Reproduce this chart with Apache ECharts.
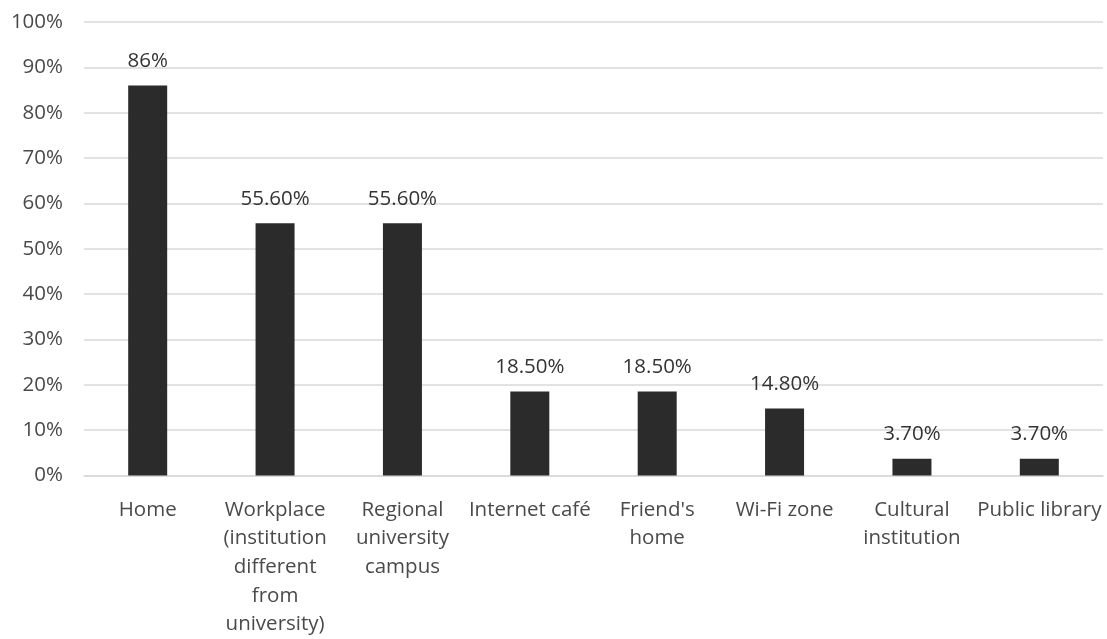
<!DOCTYPE html>
<html>
<head>
<meta charset="utf-8">
<script src="https://cdn.jsdelivr.net/npm/echarts@6/dist/echarts.min.js"></script>
<style>
  html, body { margin: 0; padding: 0; background: #ffffff; }
  #chart { width: 1107px; height: 639px; }
</style>
</head>
<body>
<div id="chart"></div>
<script>
// Places where respondents access the internet (share of respondents, %)
const categories = [
  'Home',
  'Workplace\n(institution\ndifferent\nfrom\nuniversity)',
  'Regional\nuniversity\ncampus',
  'Internet café',
  "Friend's\nhome",
  'Wi-Fi zone',
  'Cultural\ninstitution',
  'Public library'
];
const shares = [86, 55.6, 55.6, 18.5, 18.5, 14.8, 3.7, 3.7];
const yTicks = { min: 0, max: 100, step: 10 };

const FONT = '"Open Sans", "Noto Sans", sans-serif';

function pct(v) {
  return Number.isInteger(v) ? v + '%' : v.toFixed(2) + '%';
}

const chart = echarts.init(document.getElementById('chart'), null, { renderer: 'canvas' });
chart.setOption({
  animation: false,
  backgroundColor: '#ffffff',
  grid: { left: 84, right: 4, top: 22, bottom: 158, containLabel: false },
  xAxis: {
    type: 'category',
    data: categories,
    axisTick: { show: false },
    axisLine: { show: true, lineStyle: { color: '#d9d9d9', width: 1.5 } },
    axisLabel: {
      interval: 0,
      margin: 20,
      color: '#4a4a4a',
      fontFamily: FONT,
      fontSize: 20.5,
      lineHeight: 28.7,
      align: 'center'
    }
  },
  yAxis: {
    type: 'value',
    min: yTicks.min,
    max: yTicks.max,
    interval: yTicks.step,
    axisLine: { show: false },
    axisTick: { show: false },
    splitLine: { lineStyle: { color: '#d9d9d9', width: 1.5 } },
    axisLabel: {
      margin: 21,
      color: '#4a4a4a',
      fontFamily: FONT,
      fontSize: 20.5,
      formatter: '{value}%'
    }
  },
  series: [{
    type: 'bar',
    data: shares,
    barWidth: 39,
    itemStyle: { color: '#2b2b2b' },
    label: {
      show: true,
      position: 'top',
      distance: 14,
      color: '#333333',
      fontFamily: FONT,
      fontSize: 20.5,
      formatter: p => pct(p.value)
    }
  }]
});
</script>
</body>
</html>
